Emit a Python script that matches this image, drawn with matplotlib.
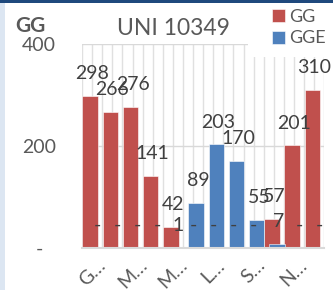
import matplotlib
matplotlib.use("Agg")
import matplotlib.pyplot as plt
from matplotlib.patches import Rectangle
import numpy as np

# ---- data ----
months = ["Gennaio", "Febbraio", "Marzo", "Aprile", "Maggio", "Giugno",
          "Luglio", "Agosto", "Settembre", "Ottobre", "Novembre", "Dicembre"]
tick_labels = ["G…", "", "M…", "", "M…", "", "L…", "", "S…", "", "N…", ""]
gg = [298, 266, 276, 141, 42, 0, 0, 0, 0, 57, 201, 310]
gge = [0, 0, 0, 0, 1, 89, 203, 170, 55, 7, 0, 0]
yticks = [0, 200, 400]
ytick_labels = ["-", "200", "400"]
title = "UNI 10349"
ylabel_text = "GG"

RED = "#C0504D"
BLUE = "#4F81BD"
TXT = "#404040"
TXT2 = "#595959"
FONT = ["Lato", "DejaVu Sans"]
plt.rcParams["font.family"] = FONT

W, H = 333, 290
fig = plt.figure(figsize=(W / 100, H / 100), dpi=100)
fig.patch.set_facecolor("white")

left, right, bottom_px, top_px = 82, 324.4, 248, 44
ax = fig.add_axes([left / W, 1 - bottom_px / H, (right - left) / W, (bottom_px - top_px) / H])
ax.set_facecolor("white")

x = np.arange(len(months))
bw = 0.76
b1 = ax.bar(x - 0.10, gg, width=bw, color=RED, edgecolor="white", linewidth=0.4, label="GG", zorder=2)
b2 = ax.bar(x + 0.15, gge, width=bw, color=BLUE, edgecolor="white", linewidth=0.4, label="GGE", zorder=2.1)

for xs, vals in ((x - 0.10, gg), (x + 0.15, gge)):
    for xi, v in zip(xs, vals):
        ax.annotate("-" if v == 0 else f"{v}", xy=(xi, v), xytext=(1.5, 12.2),
                    textcoords="offset points", ha="center", va="baseline",
                    fontsize=14, color=TXT, zorder=4, annotation_clip=False)

ax.set_xlim(-0.5, len(months) - 0.5)
ax.set_ylim(0, 400)

ax.set_xticks(x)
ax.set_xticklabels(tick_labels, rotation=45, ha="center", va="top", fontsize=14, color=TXT2)
ax.set_xticks(np.arange(-0.5, len(months), 1.0), minor=True)
ax.tick_params(axis="x", which="both", length=0, pad=6)

ax.set_yticks(yticks)
ax.set_yticklabels(ytick_labels, fontsize=14, color=TXT2)
for t in ax.get_yticklabels():
    t.set_horizontalalignment("center")
ax.tick_params(axis="y", length=0, pad=31)

ax.set_axisbelow(True)
ax.grid(axis="x", which="both", color="#E0E0E0", linewidth=1.0)
ax.grid(axis="y", which="major", color="#D9D9D9", linewidth=1.0)

for s in ("top", "right", "left"):
    ax.spines[s].set_visible(False)
ax.spines["bottom"].set_color("#D9D9D9")
ax.spines["bottom"].set_linewidth(1.5)

# white area behind legend
ax.add_patch(Rectangle((248 / W, 1 - 57 / H), (W - 248) / W, 57 / H, transform=fig.transFigure,
                       facecolor="white", edgecolor="none", zorder=2.5, clip_on=False))

leg = ax.legend(handles=[b1, b2], loc="upper left", bbox_to_anchor=(272 / W, 1 - 9 / H),
                bbox_transform=fig.transFigure, frameon=False, fontsize=13,
                handlelength=0.72, handleheight=0.72, handletextpad=0.25,
                labelspacing=0.3, borderpad=0, borderaxespad=0)
for t in leg.get_texts():
    t.set_color(TXT2)
leg.set_zorder(5)

fig.text(173 / W, 1 - 35 / H, title, ha="center", va="baseline", fontsize=16.5, color=TXT2)
fig.text(15 / W, 1 - 32 / H, ylabel_text, ha="left", va="baseline", fontsize=15,
         fontweight="bold", color=TXT2)

# frame decorations
fig.add_artist(Rectangle((0, 1 - 3 / H), 1, 3 / H, transform=fig.transFigure,
                         facecolor="#1F497D", edgecolor="none"))
fig.add_artist(Rectangle((0, 0), 5 / W, 1 - 3 / H, transform=fig.transFigure,
                         facecolor="#DCE6F2", edgecolor="none"))

fig.savefig("out.png", dpi=100)
